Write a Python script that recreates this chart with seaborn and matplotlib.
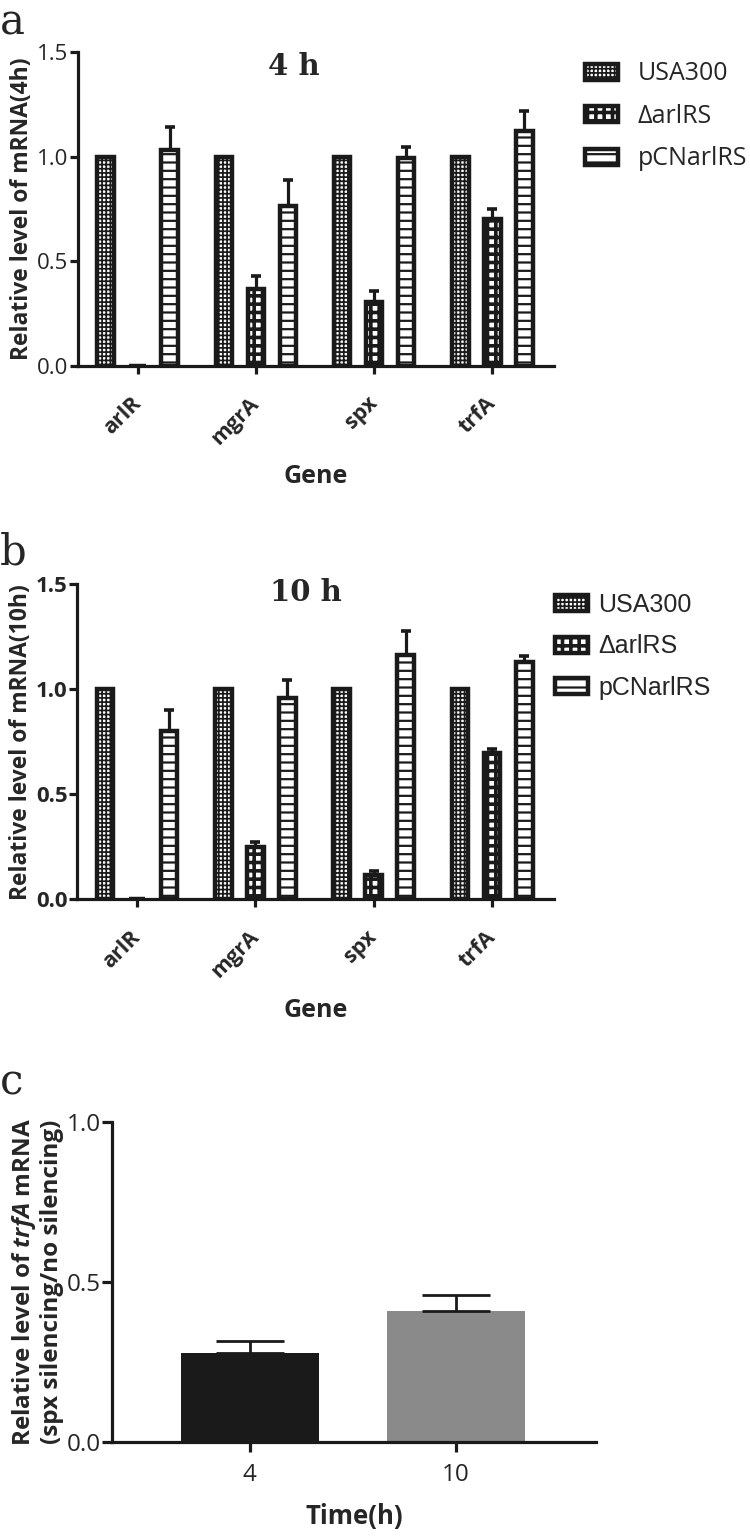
import numpy as np
import pandas as pd
import matplotlib
matplotlib.use("Agg")
import matplotlib.pyplot as plt
import seaborn as sns
from matplotlib.ticker import FormatStrFormatter

# ---- data ----
genes = ["arlR", "mgrA", "spx", "trfA"]
strains = ["USA300", "\u0394arlRS", "pCNarlRS"]

mean_4h_usa = [1.0, 1.0, 1.0, 1.0]
mean_4h_del = [0.0, 0.366, 0.305, 0.70]
mean_4h_pcn = [1.03, 0.765, 0.992, 1.123]
err_4h_usa = [0.0, 0.0, 0.0, 0.0]
err_4h_del = [0.0, 0.065, 0.05, 0.05]
err_4h_pcn = [0.11, 0.125, 0.056, 0.095]

mean_10h_usa = [1.0, 1.0, 1.0, 1.0]
mean_10h_del = [0.0, 0.25, 0.116, 0.698]
mean_10h_pcn = [0.80, 0.957, 1.164, 1.132]
err_10h_usa = [0.0, 0.0, 0.0, 0.0]
err_10h_del = [0.0, 0.025, 0.02, 0.02]
err_10h_pcn = [0.10, 0.088, 0.114, 0.028]

times = ["4", "10"]
ratio_trfA = [0.276, 0.408]
err_trfA = [0.039, 0.052]

sns.set_theme(style="ticks")
plt.rcParams["font.family"] = ["Open Sans", "DejaVu Sans"]
plt.rcParams["mathtext.fontset"] = "custom"
plt.rcParams["mathtext.it"] = "Open Sans:italic:bold"
plt.rcParams["mathtext.rm"] = "Open Sans:bold"
plt.rcParams["hatch.linewidth"] = 1.2

# hatch: (pattern, hatch linewidth)
hatches = {"USA300": ("++++", 1.25), "\u0394arlRS": ("++", 2.6), "pCNarlRS": ("--", 1.6)}

fig = plt.figure(figsize=(7.5, 15.36), dpi=100)


def long_df(means, errs):
    rows = []
    for s, m_list, e_list in zip(strains, means, errs):
        for g, m, e in zip(genes, m_list, e_list):
            rows.append({"gene": g, "strain": s, "value": m, "err": e})
    return pd.DataFrame(rows)


def apply_hatch(p, s):
    pat, lw = hatches[s]
    p.set_hatch(pat)
    if hasattr(p, "set_hatch_linewidth"):
        p.set_hatch_linewidth(lw)


def gene_panel(ax, df, ylabel, title, title_xy, tick_bold):
    sns.barplot(
        data=df, x="gene", y="value", hue="strain",
        order=genes, hue_order=strains,
        palette={s: "white" for s in strains}, saturation=1,
        edgecolor="#1a1a1a", linewidth=3.2, width=0.813, gap=0.48,
        errorbar=None, legend=False, ax=ax,
    )
    bar_conts = list(ax.containers)
    for cont, s in zip(bar_conts, strains):
        sub = df[df["strain"] == s].set_index("gene").loc[genes]
        for p, m, e in zip(cont.patches, sub["value"], sub["err"]):
            apply_hatch(p, s)
            if e > 0:
                x = p.get_x() + p.get_width() / 2
                ax.errorbar(x, m, yerr=[[0], [e]], fmt="none", ecolor="#1a1a1a",
                            elinewidth=2.3, capsize=3.6, capthick=2.6, zorder=1)
    ax.set_xlim(-0.505, 3.525)
    ax.set_ylim(0, 1.5)
    ax.set_yticks([0, 0.5, 1.0, 1.5])
    ax.yaxis.set_major_formatter(FormatStrFormatter("%.1f"))
    sns.despine(ax=ax)
    for sp in ["left", "bottom"]:
        ax.spines[sp].set_linewidth(2.3)
        ax.spines[sp].set_color("#1a1a1a")
    ax.tick_params(axis="both", width=2.3, length=6, color="#1a1a1a")
    ax.tick_params(axis="y", labelsize=16, pad=1)
    for lab in ax.get_yticklabels():
        lab.set_fontweight("bold" if tick_bold else "normal")
    ax.set_xticks(range(len(genes)))
    ax.set_xticklabels(genes, rotation=45, ha="right", va="center",
                       rotation_mode="anchor", fontsize=15.5, fontweight="bold")
    ax.tick_params(axis="x", pad=19)
    ax.set_xlabel("Gene", fontsize=18, fontweight="bold", labelpad=11)
    ax.set_ylabel(ylabel, fontsize=16.5, fontweight="bold", labelpad=2)
    ax.text(title_xy[0], title_xy[1], title, transform=ax.transAxes,
            ha="center", va="center", fontsize=21, fontweight="bold",
            family="DejaVu Serif")
    return bar_conts


def fix_legend_hatch(leg):
    for h, s in zip(leg.legend_handles, strains):
        apply_hatch(h, s)


# panel a
ax_a = fig.add_axes([0.104, 0.762, 0.635, 0.204])
df_4h = long_df([mean_4h_usa, mean_4h_del, mean_4h_pcn], [err_4h_usa, err_4h_del, err_4h_pcn])
bars_a = gene_panel(ax_a, df_4h, "Relative level of mRNA(4h)", "4 h", (0.454, 0.956), False)
leg_a = fig.legend(handles=[c.patches[0] for c in bars_a], labels=strains,
                   loc="upper left", bbox_to_anchor=(0.78, 0.960), frameon=False,
                   borderpad=0, borderaxespad=0, fontsize=18, handlelength=1.32,
                   handleheight=0.6, handletextpad=0.8, labelspacing=0.7)
fix_legend_hatch(leg_a)

# panel b
ax_b = fig.add_axes([0.103, 0.4145, 0.636, 0.205])
df_10h = long_df([mean_10h_usa, mean_10h_del, mean_10h_pcn], [err_10h_usa, err_10h_del, err_10h_pcn])
bars_b = gene_panel(ax_b, df_10h, "Relative level of mRNA(10h)", "10 h", (0.48, 0.973), True)
leg_b = fig.legend(handles=[c.patches[0] for c in bars_b], labels=strains,
                   loc="upper left", bbox_to_anchor=(0.74, 0.614), frameon=False,
                   borderpad=0, borderaxespad=0, handlelength=1.32,
                   handleheight=0.6, handletextpad=0.4, labelspacing=0.7,
                   prop={"family": "Liberation Sans", "size": 18})
fix_legend_hatch(leg_b)

# panel c
ax_c = fig.add_axes([0.149, 0.0614, 0.646, 0.2083])
df_c = pd.DataFrame({"time": times, "ratio": ratio_trfA, "err": err_trfA})
sns.barplot(data=df_c, x="time", y="ratio", hue="time", order=times,
            palette=["#1a1a1a", "#8a8a8a"], saturation=1, width=0.67,
            linewidth=0, errorbar=None, legend=False, ax=ax_c)
bars_c = [p for c in list(ax_c.containers) for p in c.patches]
for p, m, e in zip(bars_c, df_c["ratio"], df_c["err"]):
    x = p.get_x() + p.get_width() / 2
    ax_c.errorbar(x, m, yerr=[[0], [e]], fmt="none", ecolor="#1a1a1a",
                  elinewidth=2.0, capsize=24.5, capthick=2.0, zorder=1)
ax_c.set_xlim(-0.67, 1.68)
ax_c.set_ylim(0, 1.0)
ax_c.set_yticks([0, 0.5, 1.0])
ax_c.yaxis.set_major_formatter(FormatStrFormatter("%.1f"))
sns.despine(ax=ax_c)
for sp in ["left", "bottom"]:
    ax_c.spines[sp].set_linewidth(2.3)
    ax_c.spines[sp].set_color("#1a1a1a")
ax_c.tick_params(axis="both", width=2.3, length=7, color="#1a1a1a", labelsize=17.5)
ax_c.tick_params(axis="y", pad=1)
ax_c.tick_params(axis="x", pad=8)
ax_c.set_xlabel("Time(h)", fontsize=18.5, fontweight="bold", labelpad=12)
ax_c.set_ylabel("Relative level of $\\mathit{trfA}$ mRNA\n(spx silencing/no silencing)",
                fontsize=17.5, fontweight="bold", labelpad=2, linespacing=1.1)

# panel letters
for txt, y in [("a", 0.999), ("b", 0.654), ("c", 0.309)]:
    fig.text(0.0, y, txt, ha="left", va="top", fontsize=30, family="DejaVu Serif")

fig.savefig("out.png", dpi=100)
